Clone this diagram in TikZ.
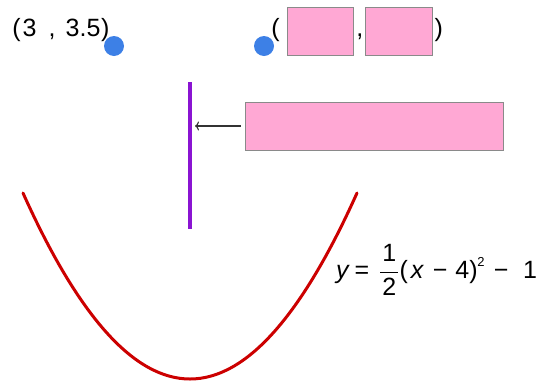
\documentclass[tikz,border=0pt]{standalone}
\usepackage{fontspec}
\setmainfont{Liberation Sans}
\usetikzlibrary{arrows.meta}
\definecolor{ptblue}{HTML}{3D80E6}
\definecolor{boxpink}{HTML}{FFA8D4}
\definecolor{boxedge}{HTML}{8A8A8A}
\definecolor{vcol}{HTML}{8A14D2}
\definecolor{curvecol}{HTML}{CC0000}
\definecolor{arrcol}{HTML}{333333}
\begin{document}
\begin{tikzpicture}[x=1pt,y=-1pt,
  lbl/.style={inner sep=0pt, outer sep=0pt, font=\fontsize{25}{30}\selectfont},
  ptdot/.style={circle, fill=ptblue, minimum size=20pt, inner sep=0pt},
  pinkbox/.style={rectangle, fill=boxpink, draw=boxedge, line width=1pt, inner sep=0pt},
  vseg/.style={vcol, line width=3.5pt},
  conn/.style={arrcol, line width=1.1pt, -{To[length=4pt,width=9pt]}},
  curvestyle/.style={curvecol, line width=3pt, line cap=round}]
\useasboundingbox (0,0) rectangle (545,381);
% left point label and dot
\node[lbl, anchor=base west] (ptA) at (12.4,36) {(\kern2pt3\hspace{12.1pt},\hspace{10pt}3.5\kern0.8pt)};
\node[ptdot] (dotA) at (114,46) {};
% right point with boxes
\node[ptdot] (dotB) at (264,46) {};
\node[lbl, anchor=base west] (lp) at (271.4,36) {(};
\node[pinkbox, minimum width=66pt, minimum height=48pt] (bx) at (320,31) {};
\node[lbl, anchor=base west] (comma) at (356.3,36) {,};
\node[pinkbox, minimum width=67pt, minimum height=48pt] (by) at (398.5,31) {};
\node[lbl, anchor=base west] (rp) at (434.5,36) {)};
% vertical segment
\coordinate (vt) at (190,82);
\coordinate (vb) at (190,229);
\draw[vseg] (vt) -- (vb);
% big box and arrow
\node[pinkbox, minimum width=258pt, minimum height=48pt] (big) at (374,126) {};
\coordinate (arrend) at (195,126);
\draw[conn] ([xshift=-4pt]big.west) -- (arrend);
% parabola
\coordinate (pl) at (23,193);
\coordinate (pr) at (357,193);
\coordinate (c1) at (134.33,441);
\coordinate (c2) at (245.67,441);
\draw[curvestyle] (pl) .. controls (c1) and (c2) .. (pr);
% equation
\node[lbl, anchor=base west] (eq) at (336,278)
  {\textit{y}\hspace{4.9pt}=\hspace{9.9pt}$\displaystyle\frac{\hbox to 18pt{\hfil 1\hfil}}{\hbox to 18pt{\hfil 2\hfil}}$(\hspace{3pt}\textit{x}\hspace{8.7pt}−\hspace{8pt}4)\kern-0.3pt\raisebox{12pt}{\fontsize{13}{13}\selectfont 2}\hspace{9.3pt}−\hspace{14.6pt}1};
\end{tikzpicture}
\end{document}
